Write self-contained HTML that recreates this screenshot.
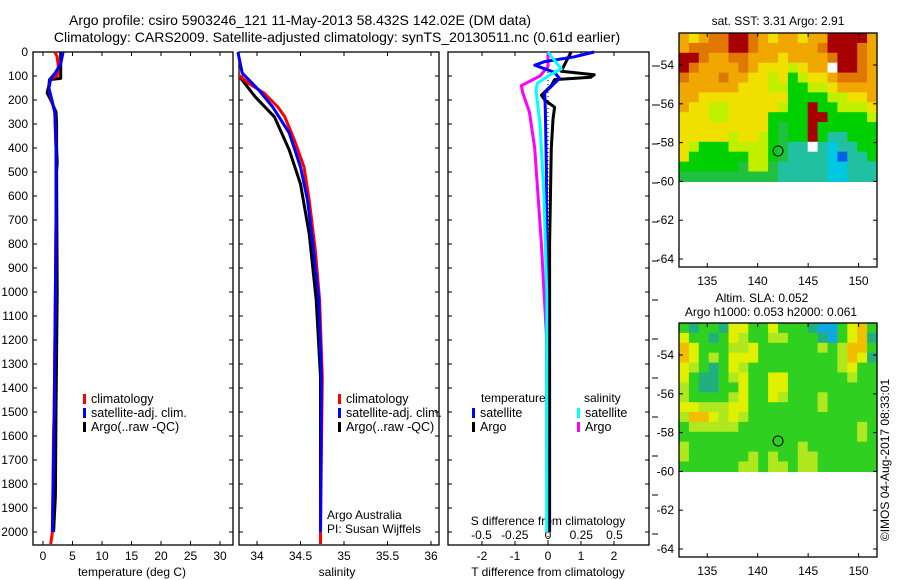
<!DOCTYPE html>
<html><head><meta charset="utf-8"><style>
html,body{margin:0;padding:0;background:#fff;}
svg{display:block;font-family:"Liberation Sans",sans-serif;}
text{fill:#000;}
</style></head><body>
<svg id="c" width="900" height="580" viewBox="0 0 900 580" xmlns="http://www.w3.org/2000/svg">
<text x="300" y="25" font-size="14" text-anchor="middle">Argo profile: csiro 5903246_121 11-May-2013 58.432S 142.02E (DM data)</text>
<text x="337" y="42" font-size="14" text-anchor="middle">Climatology: CARS2009. Satellite-adjusted climatology: synTS_20130511.nc (0.61d earlier)</text>
<text x="778" y="25" font-size="12" text-anchor="middle">sat. SST: 3.31 Argo: 2.91</text>
<text x="762" y="302" font-size="12" text-anchor="middle">Altim. SLA: 0.052</text>
<text x="771" y="316" font-size="12" text-anchor="middle">Argo h1000: 0.053 h2000: 0.061</text>
<text transform="translate(889,460) rotate(-90)" font-size="12" text-anchor="middle">©IMOS 04-Aug-2017 08:33:01</text>
<text x="327" y="519" font-size="12">Argo Australia</text>
<text x="327" y="533" font-size="12">PI: Susan Wijffels</text>
<text x="548" y="525" font-size="12" text-anchor="middle">S difference from climatology</text>
<text x="132" y="576" font-size="12" text-anchor="middle">temperature (deg C)</text>
<text x="337" y="576" font-size="12" text-anchor="middle">salinity</text>
<text x="548" y="576" font-size="12" text-anchor="middle">T difference from climatology</text>
</svg>
<script>
const NS="http://www.w3.org/2000/svg";
const svg=document.getElementById('c');
// ---- data ----
const depthTicks=[0,100,200,300,400,500,600,700,800,900,1000,1100,1200,1300,1400,1500,1600,1700,1800,1900,2000];
const tempTicks=[0,5,10,15,20,25,30];
const salTicks=[34,34.5,35,35.5,36];
const salTickLabels=["34","34.5","35","35.5","36"];
const tdTicks=[-2,-1,0,1,2];
const sdTicks=[-0.5,-0.25,0,0.25,0.5];
const sdTickLabels=["-0.5","-0.25","0","0.25","0.5"];
const tClimDepth=[0,20,60,100,110,150,200,250,400,700,1000,1500,1580,2000,2050];
const tClimVal=[2.0,2.4,2.6,2.4,1.3,1.0,1.4,2.0,2.2,2.2,2.1,1.9,1.8,1.6,1.3];
const tSatDepth=[0,50,90,110,150,200,250,400,700,1000,1500,2000];
const tSatVal=[3.4,3.0,2.0,1.3,1.0,1.5,2.0,2.2,2.2,2.1,1.9,1.6];
const tArgoDepth=[0,40,80,110,115,140,170,200,250,300,400,460,500,1000,1500,1850,1900,2000];
const tArgoVal=[3.0,3.0,3.0,3.0,1.1,1.0,0.7,1.3,2.2,2.3,2.3,2.4,2.3,2.4,2.2,2.1,2.0,1.8];
const sClimDepth=[96,130,171,229,270,367,479,617,825,1033,1354,2000,2050];
const sClimVal=[33.79,33.9,34.08,34.24,34.32,34.43,34.54,34.6,34.67,34.72,34.75,34.73,34.73];
const sSatDepth=[0,88,158,229,337,479,617,825,1033,1354,2000];
const sSatVal=[33.78,33.83,34.02,34.18,34.37,34.5,34.58,34.65,34.71,34.74,34.73];
const sArgoDepth=[108,187,270,408,550,758,1033,1354,2000];
const sArgoVal=[33.81,33.98,34.2,34.37,34.5,34.6,34.68,34.73,34.73];
const tdArgoDepth=[0,40,80,95,105,115,140,180,200,230,280,400,800,2000];
const tdArgoVal=[0.7,0.55,0.4,1.4,1.3,0.2,0.1,-0.2,-0.1,0.2,0.15,0.1,0.05,0.05];
const tdSatDepth=[0,20,40,55,70,85,110,130,170,250,500,2000];
const tdSatVal=[1.4,0.8,-0.1,-0.4,-0.1,0.2,0.35,0.2,-0.1,-0.08,-0.05,-0.03];
const sdArgoDepth=[0,60,100,140,170,250,400,800,1000,1200,2000];
const sdArgoVal=[0,0,-0.06,-0.2,-0.19,-0.14,-0.1,-0.05,-0.03,-0.01,0];
const sdSatDepth=[0,50,70,100,130,160,300,600,1000,2000];
const sdSatVal=[0,0.07,0.1,0,-0.08,-0.09,-0.06,-0.03,-0.01,-0.01];
const latTicks=[-54,-56,-58,-60,-62,-64];
const lonTicks=[135,140,145,150];
const sstGrid=[
"OYODDRRDOYOOYOORRRRO",
"ODDDDRRDOOOOOODRRRDO",
"RRDOODDOOOYOOOODRRDO",
"RDOOOODOYYYLYOOWRRDO",
"DOOODOOYYLYGLYYODDDO",
"OOOOOOYYYLLGGLLYOOOO",
"OOYYYYYYYYYGGGGLLYYO",
"OYYLLYYYYYLGGRGGLLLY",
"YYYLLYYYYGGGGRRGGGGL",
"YYYYYYYYYGEGGRGGGGGG",
"YYYYYLYYLGEGGRGTTGGG",
"YLGGGLLLLGETTWTCTTGG",
"YGGGGGGLLGETTTTCBTTG",
"GGGGGGELLETTTTTCCTTT",
"EEEEEEEEEETTTTTCCTTT"];
const slaGrid=[
"GTGGTYYGGYGGGTCCGYOG",
"YGGTGYLGGLLGGGTCGYOT",
"OYGGGLLYGGGGGGLGLOOG",
"OYGLGYYYGGGGGGGGLOYT",
"YLGTGYLGGGGGGGGGLYGG",
"YGTTGLYGGYYGGGGGGLGG",
"LGTTGGYGGYYGGGGGGGGG",
"LGGGGLYGGYLGGGLGGGGG",
"YYLLLYYGGGGGGGLGGGGG",
"LOOYLYLGGGGGGGGGGGGG",
"GLLLLLGGGGGGGGGGGGLG",
"GGGGGGGGGGGGGGGGGGLG",
"LGGGGGGGGGGGLGGGGGGG",
"LGGGGGGLGLGGLLGGGGGG",
"GGGGGGLLGLLGLLGGGGGG"];
const palette={R:"#a80000",D:"#e07800",O:"#f0a800",Y:"#f0e000",L:"#c0f000",G:"#00d000",E:"#20c040",T:"#20c0a0",C:"#00c8e0",B:"#0060f0",W:"#ffffff"};
const slaPalette={G:"#30d020",T:"#20b080",C:"#10a8e0",Y:"#e0f000",L:"#b0e820",O:"#f0c000"};
// ---- geometry ----
const yD=d=>52+d*0.24;
const xT=t=>43+t*5.9;
const xS=s=>257+(s-34)*87;
const xTD=t=>548+t*33;
const xSD=s=>548+s*133;
const lonX=l=>679+(l-132.2)*10.09;
const latY=(l,off)=>off+33+(-52.35-l)*19.4;
function mk(tag,attrs,parent){const e=document.createElementNS(NS,tag);for(const k in attrs)e.setAttribute(k,attrs[k]);(parent||svg).appendChild(e);return e;}
function frame(x0,x1,y0,y1,name){
  const r=mk('rect',{x:x0,y:y0,width:x1-x0,height:y1-y0,fill:'none',stroke:'#000','stroke-width':1.3});
  
  
}
function txt(x,y,s,anchor,name,size){const t=mk('text',{x:x,y:y,'font-size':size||12,'text-anchor':anchor||'middle'});t.textContent=s;
  
  
  return t;}
function tick(x1,y1,x2,y2,name){const l=mk('line',{x1:x1,y1:y1,x2:x2,y2:y2,stroke:'#000','stroke-width':1});
  
  }
function line(depths,vals,xf,color,name,w){
  const pts=depths.map((d,i)=>xf(vals[i]).toFixed(1)+','+yD(d).toFixed(1)).join(' ');
  const p=mk('polyline',{points:pts,fill:'none',stroke:color,'stroke-width':w||3,'stroke-linejoin':'round'});
  
  
}
const panels=[[33,233],[239,439],[448,649]];
panels.forEach((p,pi)=>{
  frame(p[0],p[1],52,545,'panel-'+(pi+1)+'-frame');
  depthTicks.forEach(d=>{tick(p[0],yD(d),p[0]+4,yD(d),'depth-tick');tick(p[1]-4,yD(d),p[1],yD(d),'depth-tick');});
});
depthTicks.forEach(d=>txt(28,yD(d)+4,String(d),'end','depth-label'));
for(let y=66;y<=550;y+=39)tick(652,y,658,y,'right-axis-tick');
tempTicks.forEach(t=>{tick(xT(t),545,xT(t),541,'temp-tick');tick(xT(t),52,xT(t),56,'temp-tick');txt(xT(t),560,String(t),'middle','temp-tick-label');});
salTicks.forEach((s,i)=>{tick(xS(s),545,xS(s),541,'sal-tick');tick(xS(s),52,xS(s),56,'sal-tick');txt(xS(s),560,salTickLabels[i],'middle','sal-tick-label');});
tdTicks.forEach(t=>{tick(xTD(t),545,xTD(t),541,'tdiff-tick');tick(xTD(t),52,xTD(t),56,'tdiff-tick');txt(xTD(t),560,String(t),'middle','tdiff-tick-label');});
sdTicks.forEach((s,i)=>txt(xSD(s),539,sdTickLabels[i],'middle','sdiff-tick-label'));
const z=mk('line',{x1:xTD(0),y1:52,x2:xTD(0),y2:545,stroke:'#000','stroke-width':1,'stroke-dasharray':'1,3'});


line(tArgoDepth,tArgoVal,xT,'#000','temp-argo-line');
line(tClimDepth,tClimVal,xT,'#f00','temp-climatology-line');
line(tSatDepth,tSatVal,xT,'#00f','temp-satellite-line');
line(sArgoDepth,sArgoVal,xS,'#000','sal-argo-line');
line(sClimDepth,sClimVal,xS,'#f00','sal-climatology-line');
line(sSatDepth,sSatVal,xS,'#00f','sal-satellite-line');
line(sdArgoDepth,sdArgoVal,xSD,'#f0f','sdiff-argo-line');
line(tdArgoDepth,tdArgoVal,xTD,'#000','tdiff-argo-line');
line(tdSatDepth,tdSatVal,xTD,'#00f','tdiff-satellite-line');
line(sdSatDepth,sdSatVal,xSD,'#0ff','sdiff-satellite-line');
function leg(x,y,color,label,name){const r=mk('rect',{x:x,y:y-9,width:3,height:10,fill:color});
  
  
  if(label)txt(x+8,y,label,'start',name,12.5);}
[['#f00','climatology'],['#00f','satellite-adj. clim.'],['#000','Argo(..raw -QC)']].forEach((e,i)=>{
  leg(83,403+i*14,e[0],e[1],'legend-entry');leg(338,403+i*14,e[0],e[1],'legend-entry');});
txt(481,402,'temperature','start','legend-header-temperature');
txt(584,402,'salinity','start','legend-header-salinity');
leg(472,417,'#00f','satellite','legend-entry');leg(472,431,'#000','Argo','legend-entry');
leg(577,417,'#0ff','satellite','legend-entry');leg(577,431,'#f0f','Argo','legend-entry');
function map(off,grid,pal,name){
  const x0=679,x1=877,yTop=off+33,y60=latY(-60,off);
  const cols=grid[0].length,rows=grid.length,cw=(x1-x0)/cols,ch=(y60-yTop)/rows;
  grid.forEach((row,r)=>{for(let c=0;c<cols;c++){
    const cell=mk('rect',{x:(x0+c*cw).toFixed(1),y:(yTop+r*ch).toFixed(1),width:(cw+0.6).toFixed(1),height:(ch+0.6).toFixed(1),fill:pal[row[c]]});
    
    
  }});
  frame(x0,x1,yTop,off+267,name+'-frame');
  latTicks.forEach(l=>{tick(x0,latY(l,off),x0+4,latY(l,off),'lat-tick');tick(x1-4,latY(l,off),x1,latY(l,off),'lat-tick');txt(674,latY(l,off)+4,String(l),'end','lat-label');});
  lonTicks.forEach(l=>{tick(lonX(l),off+267,lonX(l),off+263,'lon-tick');tick(lonX(l),yTop,lonX(l),yTop+4,'lon-tick');txt(lonX(l),off+285,String(l),'middle','lon-label');});
  const ci=mk('circle',{cx:lonX(142.02),cy:latY(-58.432,off),r:5,fill:'none',stroke:'#000','stroke-width':1});
  
  
}
map(0,sstGrid,palette,'sst-map');
map(290,slaGrid,slaPalette,'sla-map');
</script>
</body></html>
